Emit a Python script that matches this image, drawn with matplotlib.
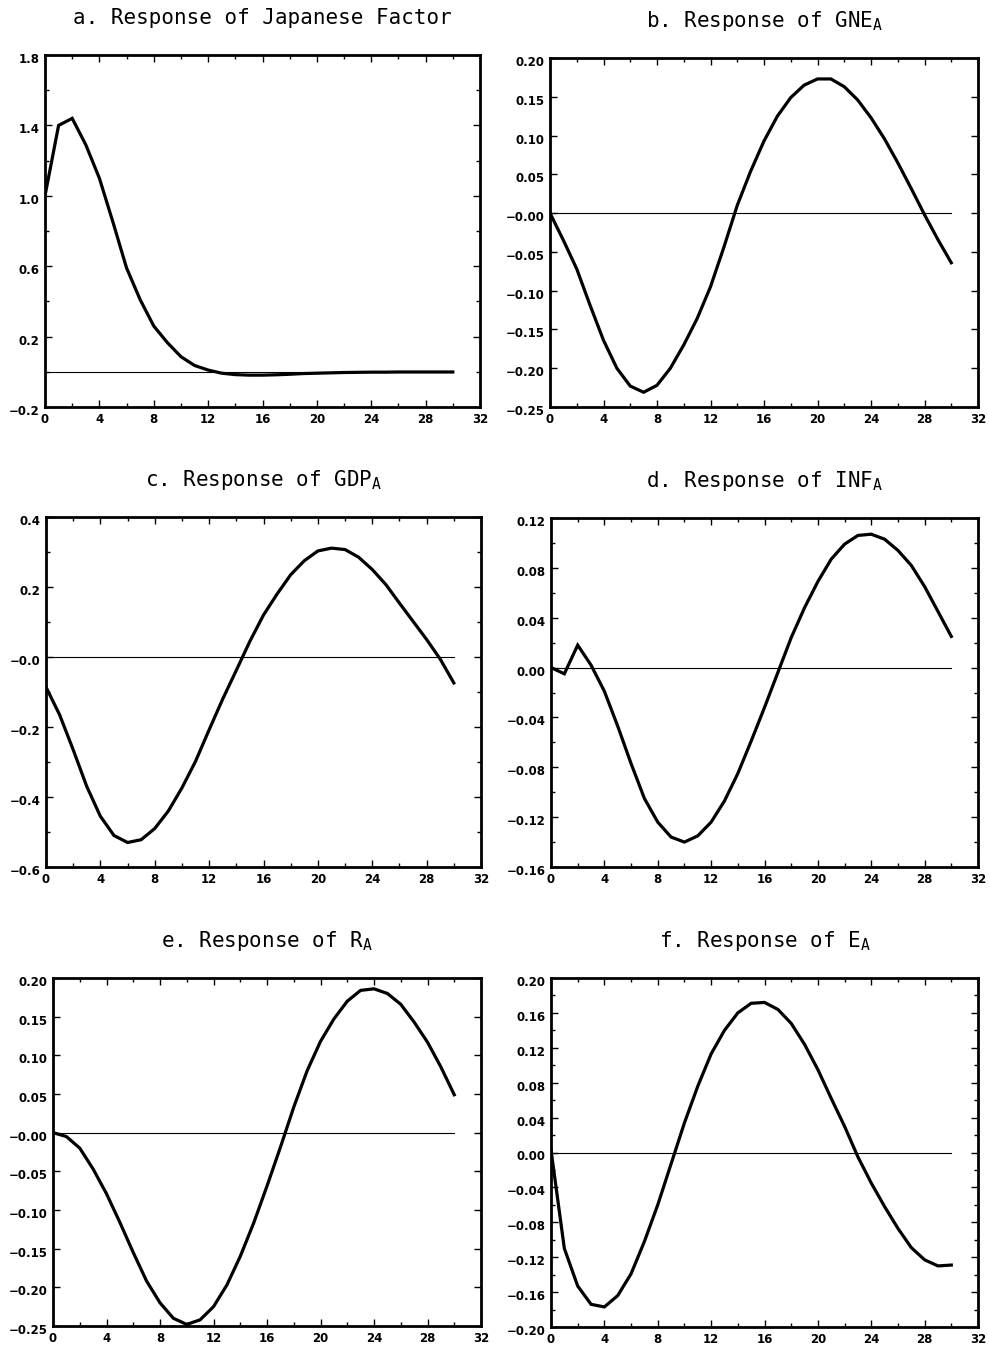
import numpy as np
import matplotlib
matplotlib.use("Agg")
import matplotlib.pyplot as plt
import matplotlib.transforms as mtransforms
from matplotlib.ticker import FixedLocator, FixedFormatter, MultipleLocator

plt.rcParams["mathtext.fontset"] = "custom"
plt.rcParams["mathtext.rm"] = "DejaVu Sans Mono"

# horizon 0..30
steps = np.arange(31)

# a. Japanese factor
resp_jpn = [1.00, 1.40, 1.44, 1.29, 1.10, 0.85, 0.59, 0.41, 0.26, 0.166, 0.086,
            0.036, 0.010, -0.008, -0.016, -0.019, -0.019, -0.017, -0.014, -0.010, -0.008,
            -0.006, -0.004, -0.003, -0.002, -0.002, -0.001, -0.001, -0.001, -0.001, -0.001]

# b. GNE_A
resp_gne = [0.000, -0.035, -0.072, -0.119, -0.164, -0.200, -0.223, -0.231, -0.222, -0.200, -0.170,
            -0.136, -0.095, -0.044, 0.010, 0.054, 0.093, 0.125, 0.149, 0.165, 0.173,
            0.173, 0.163, 0.146, 0.123, 0.096, 0.065, 0.032, -0.002, -0.034, -0.064]

# c. GDP_A
resp_gdp = [-0.086, -0.165, -0.265, -0.370, -0.455, -0.510, -0.530, -0.522, -0.490, -0.440, -0.374,
            -0.298, -0.208, -0.120, -0.038, 0.045, 0.120, 0.180, 0.235, 0.275, 0.303,
            0.311, 0.307, 0.285, 0.250, 0.207, 0.154, 0.102, 0.050, -0.006, -0.074]

# d. INF_A
resp_inf = [0.000, -0.005, 0.018, 0.002, -0.019, -0.047, -0.077, -0.105, -0.124, -0.136, -0.140,
            -0.135, -0.124, -0.107, -0.085, -0.059, -0.032, -0.004, 0.024, 0.048, 0.069,
            0.087, 0.099, 0.106, 0.107, 0.103, 0.094, 0.082, 0.065, 0.045, 0.025]

# e. R_A
resp_r = [0.000, -0.005, -0.020, -0.047, -0.079, -0.116, -0.155, -0.192, -0.220, -0.240, -0.248,
          -0.242, -0.225, -0.197, -0.160, -0.117, -0.069, -0.019, 0.033, 0.080, 0.118,
          0.147, 0.170, 0.184, 0.186, 0.180, 0.166, 0.143, 0.117, 0.085, 0.049]

# f. E_A
resp_e = [0.003, -0.110, -0.153, -0.174, -0.177, -0.164, -0.139, -0.102, -0.060, -0.013, 0.034,
          0.076, 0.113, 0.140, 0.160, 0.171, 0.172, 0.164, 0.148, 0.124, 0.095,
          0.062, 0.030, -0.005, -0.035, -0.062, -0.087, -0.109, -0.123, -0.130, -0.129]

titles = ["a. Response of Japanese Factor",
          r"b. Response of GNE$_\mathrm{A}$",
          r"c. Response of GDP$_\mathrm{A}$",
          r"d. Response of INF$_\mathrm{A}$",
          r"e. Response of R$_\mathrm{A}$",
          r"f. Response of E$_\mathrm{A}$"]

M = "\u2212"
ytick_a = [-0.2, 0.2, 0.6, 1.0, 1.4, 1.8]
ylab_a = [M + "0.2", "0.2", "0.6", "1.0", "1.4", "1.8"]
ytick_b = [-0.25, -0.20, -0.15, -0.10, -0.05, 0.0, 0.05, 0.10, 0.15, 0.20]
ylab_b = [M + "0.25", M + "0.20", M + "0.15", M + "0.10", M + "0.05", M + "0.00",
          "0.05", "0.10", "0.15", "0.20"]
ytick_c = [-0.6, -0.4, -0.2, 0.0, 0.2, 0.4]
ylab_c = [M + "0.6", M + "0.4", M + "0.2", M + "0.0", "0.2", "0.4"]
ytick_d = [-0.16, -0.12, -0.08, -0.04, 0.0, 0.04, 0.08, 0.12]
ylab_d = [M + "0.16", M + "0.12", M + "0.08", M + "0.04", "0.00", "0.04", "0.08", "0.12"]
ytick_f = [-0.20, -0.16, -0.12, -0.08, -0.04, 0.0, 0.04, 0.08, 0.12, 0.16, 0.20]
ylab_f = [M + "0.20", M + "0.16", M + "0.12", M + "0.08", M + "0.04", "0.00",
          "0.04", "0.08", "0.12", "0.16", "0.20"]
xticks = [0, 4, 8, 12, 16, 20, 24, 28, 32]

series = [resp_jpn, resp_gne, resp_gdp, resp_inf, resp_r, resp_e]
yticks = [ytick_a, ytick_b, ytick_c, ytick_d, ytick_b, ytick_f]
ylabels = [ylab_a, ylab_b, ylab_c, ylab_d, ylab_b, ylab_f]
yminor = [0.2, None, 0.1, 0.02, None, 0.02]

W, H = 989, 1349
# axes boxes in pixels: left, top, right, bottom
boxes = [(45, 55, 480, 407), (550, 58, 978, 407),
         (46, 517, 481, 867), (551, 518, 978, 867),
         (53, 978, 481, 1326), (551, 978, 978, 1327)]

fig = plt.figure(figsize=(W / 100, H / 100), dpi=100)

for i in range(6):
    l, t, r, b = boxes[i]
    ax = fig.add_axes([l / W, 1 - b / H, (r - l) / W, (b - t) / H])
    ax.plot(steps, series[i], color="black", lw=2.3, solid_joinstyle="miter")
    ax.plot([0, 30], [0, 0], color="black", lw=0.8)
    ax.set_xlim(0, 32)
    ax.set_ylim(yticks[i][0], yticks[i][-1])
    ax.xaxis.set_major_locator(FixedLocator(xticks))
    ax.xaxis.set_major_formatter(FixedFormatter([str(v) for v in xticks]))
    ax.xaxis.set_minor_locator(MultipleLocator(2))
    ax.yaxis.set_major_locator(FixedLocator(yticks[i]))
    ax.yaxis.set_major_formatter(FixedFormatter(ylabels[i]))
    if yminor[i] is not None:
        ax.yaxis.set_minor_locator(MultipleLocator(yminor[i]))
    ax.tick_params(which="both", direction="in", top=True, right=True, width=1)
    ax.tick_params(which="major", length=5, labelsize=8.5, pad=4)
    ax.tick_params(which="minor", length=3)
    for lab in ax.get_xticklabels() + ax.get_yticklabels():
        lab.set_fontweight("bold")
    # y labels sit a little below their tick
    off = mtransforms.ScaledTranslation(0, -3 / 100, fig.dpi_scale_trans)
    for lab in ax.get_yticklabels():
        lab.set_transform(lab.get_transform() + off)
    for sp in ax.spines.values():
        sp.set_linewidth(2)
    ax.set_title(titles[i], fontsize=15, pad=22, family="DejaVu Sans Mono")

fig.savefig("out.png", dpi=100)
